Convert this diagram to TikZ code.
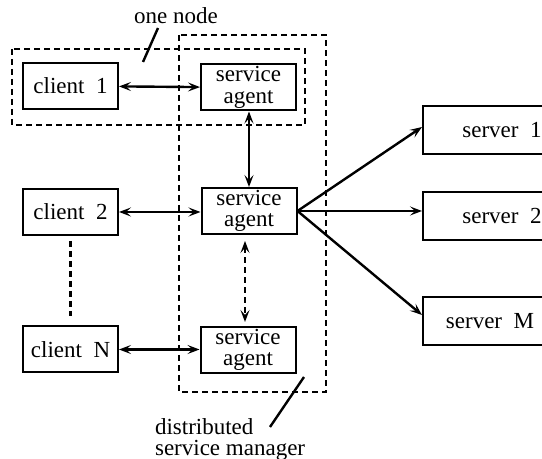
\documentclass[tikz,border=0pt]{standalone}
\usepackage{fontspec}
\setmainfont{Liberation Serif}
\newfontfamily\figfont{Liberation Serif}
\usetikzlibrary{arrows.meta}
\tikzset{
  x=0.5pt, y=-0.5pt, % one unit is one pixel of the drawing
  >={Stealth[length=6pt, width=4.5pt, inset=2.5pt]}, % arrow heads
  every node/.style={font=\figfont\fontsize{11.5pt}{10.8pt}\selectfont},
  box/.style={draw, line width=1pt, minimum width=47.5pt, minimum height=23pt,
    inner sep=0pt, align=center}, % clients and agents
  srvbox/.style={box, minimum width=67pt, minimum height=24pt},
  % the dashed groupings
  group/.style={line width=1pt, dash pattern=on 3pt off 2pt},
  link/.style={<->, line width=1.2pt},
}
\begin{document}
\begin{tikzpicture}
    \useasboundingbox (0,0) rectangle (542,459);

    % clients
    \node[box] (client1) at (70.5,86)  {client\ \ 1};
    \node[box] (client2) at (70.5,212) {client\ \ 2};
    \node[box] (clientN) at (70.5,349.5) {client\ \ N};

    % service agents
    \node[box] (agent1) at (248.5,87.5) {service\\agent};
    \node[box] (agent2) at (249,211)   {service\\agent};
    \node[box] (agent3) at (248,350)   {service\\agent};

    % servers
    \node[srvbox] (server1) at (490,130) {\hspace{12pt}server\ \ 1};
    \node[srvbox] (server2) at (490,216) {\hspace{12pt}server\ \ 2};
    \node[srvbox] (serverM) at (490,321) {server\ \ M};

    % groupings
    \draw[group] (12,49) rectangle (305,125);
    \draw[group] (179,35) rectangle (326,392);

    \node (onenode) at (176,16) {one node};
    \coordinate (onetip) at (143,62);
    \coordinate (onetop) at (158,28);
    \draw[line width=1.2pt] (onetip) -- (onetop);

    \node[anchor=north west, align=left] (dsm) at (148,411)
      {distributed\\service manager};
    \coordinate (dsmfoot) at (270,427);
    \coordinate (dsmtip) at (304,377);
    \draw[line width=1.2pt] (dsmfoot) -- (dsmtip);

    % connections
    \draw[link] (client1) -- (agent1);
    \draw[link] (client2.east) -- (agent2.west |- client2.east);
    \draw[link] (clientN) -- (agent3.west |- clientN.east);
    \draw[link] (agent1.south -| agent2.south) -- (agent2.south |- agent2.north);
    \draw[link, dash pattern=on 3pt off 2pt, shorten <=3pt, shorten >=2pt]
      ([xshift=-2pt]agent2.south) -- ([xshift=-2pt]agent2.south |- agent3.north);
    \draw[line width=1.2pt, dash pattern=on 3pt off 2pt, shorten <=2.5pt,
      shorten >=4.5pt] (client2) -- (clientN);

    \draw[->, line width=1.2pt] (agent2.east) -- ([yshift=1.5pt]server1.west);
    \draw[->, line width=1.2pt] (agent2.east) -- (agent2.east -| server2.west);
    \draw[->, line width=1.2pt] (agent2.east) -- ([yshift=3pt]serverM.west);
  \end{tikzpicture}
\end{document}
